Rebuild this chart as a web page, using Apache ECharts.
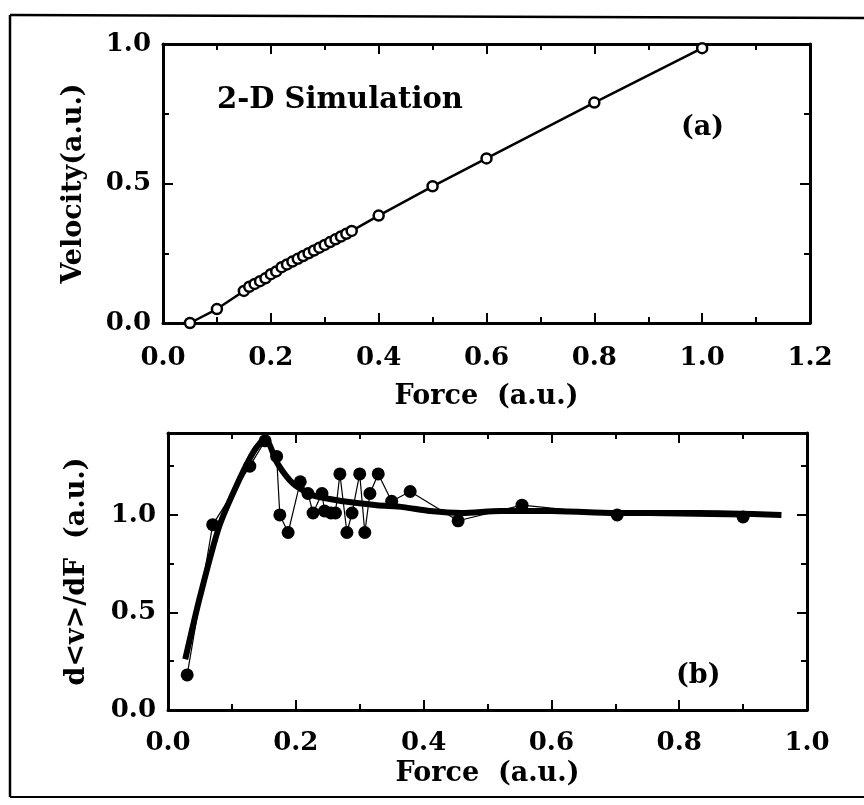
<!DOCTYPE html>
<html>
<head>
<meta charset="utf-8">
<script src="https://cdn.jsdelivr.net/npm/echarts@6/dist/echarts.min.js"></script>
<style>
html,body{margin:0;padding:0;background:#fff;}
#c{width:864px;height:805px;}
</style>
</head>
<body>
<div id="c"></div>
<script>
// ---- Panel (a): Velocity vs Force ----
const topForce = [0.05, 0.10, 0.15, 0.16, 0.17, 0.18, 0.19, 0.20, 0.21, 0.22, 0.23, 0.24, 0.25, 0.26, 0.27, 0.28, 0.29, 0.30, 0.31, 0.32, 0.33, 0.34, 0.35, 0.40, 0.50, 0.60, 0.80, 1.00];
const topVelocity = [0.00, 0.05, 0.115, 0.13, 0.14, 0.15, 0.16, 0.175, 0.185, 0.20, 0.21, 0.22, 0.23, 0.24, 0.25, 0.26, 0.27, 0.28, 0.29, 0.30, 0.31, 0.32, 0.33, 0.385, 0.49, 0.59, 0.79, 0.985];
const topXTicks = {min: 0, max: 1.2, step: 0.2};
const topYTicks = {min: 0, max: 1.0, step: 0.5};

// ---- Panel (b): d<v>/dF vs Force ----
const botForce = [0.03, 0.07, 0.128, 0.152, 0.17, 0.175, 0.188, 0.207, 0.219, 0.227, 0.241, 0.245, 0.255, 0.262, 0.269, 0.28, 0.288, 0.30, 0.308, 0.316, 0.329, 0.35, 0.379, 0.454, 0.554, 0.703, 0.90];
const botDeriv = [0.18, 0.95, 1.25, 1.38, 1.30, 1.00, 0.91, 1.17, 1.11, 1.01, 1.11, 1.02, 1.01, 1.01, 1.21, 0.91, 1.01, 1.21, 0.91, 1.11, 1.21, 1.07, 1.12, 0.97, 1.05, 1.00, 0.99];
const smoothForce = [0.027, 0.05, 0.08, 0.11, 0.135, 0.152, 0.172, 0.196, 0.227, 0.274, 0.327, 0.368, 0.41, 0.46, 0.52, 0.60, 0.70, 0.83, 0.96];
const smoothDeriv = [0.26, 0.58, 0.94, 1.17, 1.33, 1.39, 1.26, 1.16, 1.10, 1.07, 1.05, 1.04, 1.02, 1.01, 1.02, 1.02, 1.01, 1.01, 1.00];
const botXTicks = {min: 0, max: 1.0, step: 0.2};
const botYTicks = {min: 0, max: 1.42, step: 0.5, minorStep: 0.25};

const FONT = 'DejaVu Serif';
const lbl = {fontFamily: FONT, fontWeight: 'bold', fontSize: 26, color: '#000'};
const axLine = {show: true, onZero: false, lineStyle: {color: '#000', width: 3}};
const nameStyle = {fontFamily: FONT, fontWeight: 'bold', fontSize: 27, color: '#000'};

function xAx(grid, t, pos, showLabel, name, nameGap, labelMargin) {
  return {
    type: 'value', gridIndex: grid, position: pos, min: t.min, max: t.max, interval: t.step,
    axisLine: axLine,
    axisTick: {show: true, inside: true, length: 10, lineStyle: {color: '#000', width: 2}},
    minorTick: {show: true, splitNumber: 2, length: 6, lineStyle: {color: '#000', width: 2}},
    splitLine: {show: false}, minorSplitLine: {show: false},
    axisLabel: Object.assign({show: showLabel, margin: labelMargin || 20, formatter: v => v.toFixed(1)}, lbl),
    name: name || '', nameLocation: 'middle', nameGap: nameGap || 0,
    nameTextStyle: nameStyle
  };
}

function yAx(grid, t, step, pos, opts) {
  return Object.assign({
    type: 'value', gridIndex: grid, position: pos, min: t.min, max: t.max, interval: step,
    axisLine: axLine,
    axisTick: {show: true, inside: true, length: 10, lineStyle: {color: '#000', width: 2}},
    splitLine: {show: false},
    axisLabel: {show: false}
  }, opts || {});
}

const option = {
  backgroundColor: '#fff',
  animation: false,
  grid: [
    {left: 163, top: 44, width: 647, height: 279},
    {left: 168, top: 433, width: 639, height: 277}
  ],
  xAxis: [
    xAx(0, topXTicks, 'bottom', true, 'Force  (a.u.)', 60, 22),
    xAx(0, topXTicks, 'top', false),
    xAx(1, botXTicks, 'bottom', true, 'Force  (a.u.)', 50, 20),
    xAx(1, botXTicks, 'top', false)
  ],
  yAxis: [
    yAx(0, topYTicks, topYTicks.step, 'left', {
      minorTick: {show: true, splitNumber: 2, length: 6, lineStyle: {color: '#000', width: 2}},
      axisLabel: Object.assign({margin: 12, formatter: v => v.toFixed(1)}, lbl),
      name: 'Velocity(a.u.)', nameLocation: 'middle', nameGap: 76, nameTextStyle: nameStyle
    }),
    yAx(0, topYTicks, topYTicks.step, 'right', {
      minorTick: {show: true, splitNumber: 2, length: 6, lineStyle: {color: '#000', width: 2}}
    }),
    yAx(1, botYTicks, botYTicks.step, 'left', {
      axisLabel: Object.assign({margin: 12, showMaxLabel: false,
        formatter: v => (Math.abs(v * 2 - Math.round(v * 2)) < 1e-6 ? v.toFixed(1) : '')}, lbl),
      name: 'd<v>/dF  (a.u.)', nameLocation: 'middle', nameGap: 78, nameTextStyle: nameStyle
    }),
    yAx(1, botYTicks, botYTicks.step, 'right'),
    yAx(1, botYTicks, botYTicks.minorStep, 'left', {
      axisLine: {show: false, onZero: false},
      axisTick: {show: true, inside: true, length: 6, lineStyle: {color: '#000', width: 2}}
    }),
    yAx(1, botYTicks, botYTicks.minorStep, 'right', {
      axisLine: {show: false, onZero: false},
      axisTick: {show: true, inside: true, length: 6, lineStyle: {color: '#000', width: 2}}
    })
  ],
  graphic: [
    {type: 'line', shape: {x1: 10, y1: 15, x2: 864, y2: 18}, style: {stroke: '#000', lineWidth: 2.5}},
    {type: 'line', shape: {x1: 10, y1: 15, x2: 10, y2: 797}, style: {stroke: '#000', lineWidth: 2.5}},
    {type: 'line', shape: {x1: 10, y1: 797, x2: 864, y2: 797}, style: {stroke: '#000', lineWidth: 2}},
    {type: 'text', left: 217, top: 86, style: {text: '2-D Simulation', fontFamily: FONT, fontWeight: 'bold', fontSize: 29, fill: '#000'}},
    {type: 'text', left: 681, top: 114, style: {text: '(a)', fontFamily: FONT, fontWeight: 'bold', fontSize: 27, fill: '#000'}},
    {type: 'text', left: 676, top: 662, style: {text: '(b)', fontFamily: FONT, fontWeight: 'bold', fontSize: 27, fill: '#000'}}
  ],
  series: [
    {
      type: 'line', xAxisIndex: 0, yAxisIndex: 0,
      data: topForce.map((f, i) => [f, topVelocity[i]]),
      symbol: 'circle', symbolSize: 10,
      itemStyle: {color: '#fff', borderColor: '#000', borderWidth: 2.5},
      lineStyle: {color: '#000', width: 2.5}
    },
    {
      type: 'line', xAxisIndex: 2, yAxisIndex: 2,
      data: smoothForce.map((f, i) => [f, smoothDeriv[i]]),
      smooth: 0.25, showSymbol: false, symbol: 'none',
      lineStyle: {color: '#000', width: 6}
    },
    {
      type: 'line', xAxisIndex: 2, yAxisIndex: 2,
      data: botForce.map((f, i) => [f, botDeriv[i]]),
      symbol: 'circle', symbolSize: 13,
      itemStyle: {color: '#000'},
      lineStyle: {color: '#000', width: 1.2}
    }
  ]
};

const chart = echarts.init(document.getElementById('c'), null, {renderer: 'canvas'});
chart.setOption(option);
</script>
</body>
</html>
